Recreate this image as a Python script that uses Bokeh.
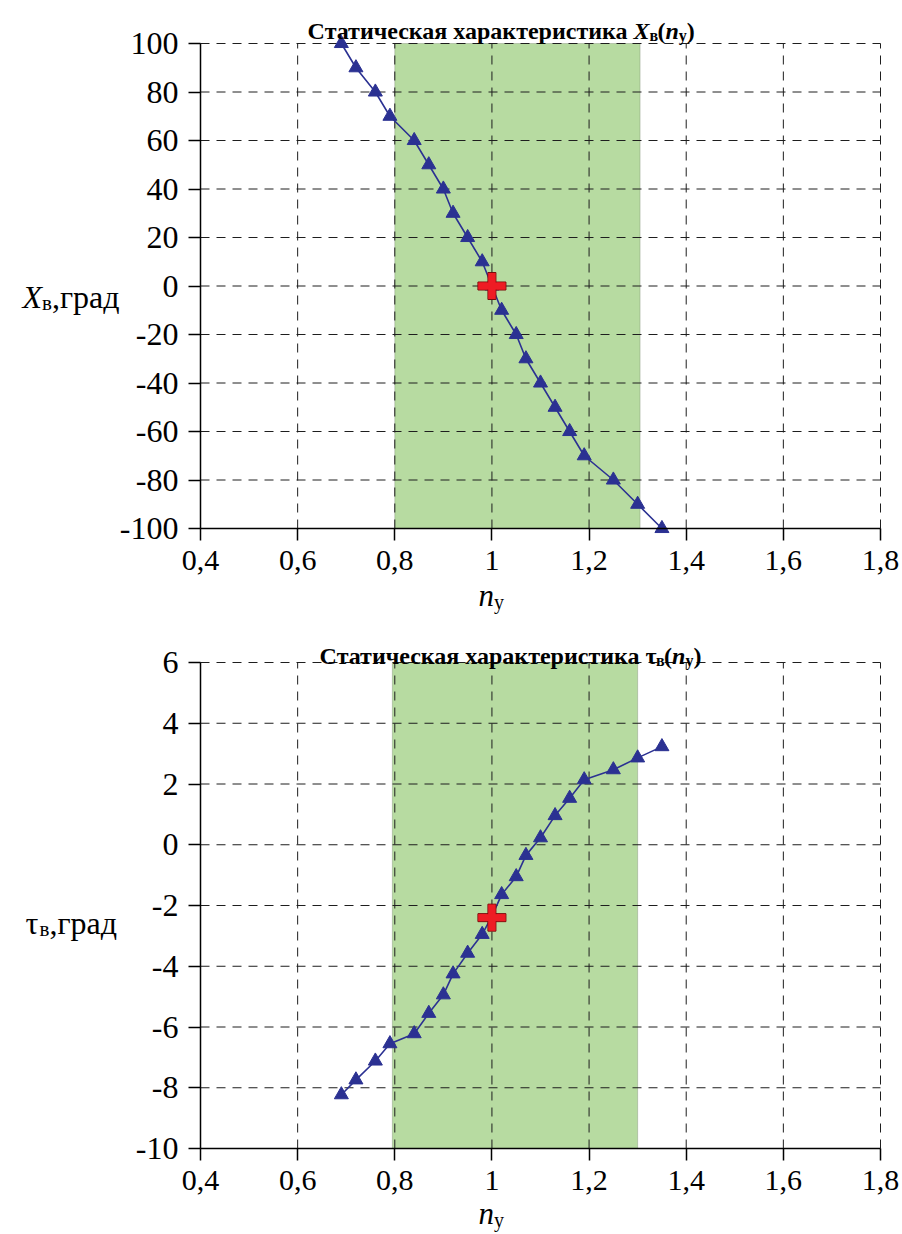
from bokeh.plotting import figure
from bokeh.layouts import column
from bokeh.models import FixedTicker, Label, Range1d, BoxAnnotation, LinearAxis
from bokeh.embed import file_html
from bokeh.resources import INLINE

# ---- data -------------------------------------------------------------
n_y = [0.69, 0.72, 0.76, 0.79, 0.84, 0.87, 0.90, 0.92, 0.95, 0.98, 1.00,
       1.02, 1.05, 1.07, 1.10, 1.13, 1.16, 1.19, 1.25, 1.30, 1.35]
x_v = [100, 90, 80, 70, 60, 50, 40, 30, 20, 10, 0,
       -10, -20, -30, -40, -50, -60, -70, -80, -90, -100]
tau_v = [-8.23, -7.74, -7.12, -6.55, -6.22, -5.55, -4.94, -4.25, -3.57, -2.95, -2.35,
         -1.64, -1.05, -0.35, 0.23, 0.96, 1.53, 2.14, 2.47, 2.86, 3.23]

# operating point
op_n = 1.0
op_x = 0.0
op_tau = -2.4

# working zone of n_y
zone_top = (0.80, 1.305)
zone_bottom = (0.795, 1.30)

x_lim = (0.4, 1.8)
x_ticks = [0.4, 0.6, 0.8, 1.0, 1.2, 1.4, 1.6, 1.8]
x_tick_labels = ["0,4", "0,6", "0,8", "1", "1,2", "1,4", "1,6", "1,8"]
y1_lim = (-100, 100)
y1_ticks = [-100, -80, -60, -40, -20, 0, 20, 40, 60, 80, 100]
y1_tick_labels = ["-100", "-80", "-60", "-40", "-20", "0", "20", "40", "60", "80", "100"]
y2_lim = (-10, 6)
y2_ticks = [-10, -8, -6, -4, -2, 0, 2, 4, 6]
y2_tick_labels = ["-10", "-8", "-6", "-4", "-2", "0", "2", "4", "6"]

# ---- styling ------------------------------------------------------------
SERIF = "Liberation Serif"
AXIS_FONT = "'Liberation Serif', serif"
BLUE = "#2b3192"
RED = "#ee1c24"
GREEN = "#b7dba1"
W, H = 902, 617
AREA_L, AREA_R = 200, 880      # pixel span of the plotting area


class Panel:
    """One chart: the canvas is the whole frame, the plotting area sits inside it."""

    def __init__(self, ylim, area_top, area_bottom):
        self.ylim = ylim
        self.top, self.bottom = area_top, area_bottom
        sx = (x_lim[1] - x_lim[0]) / (AREA_R - AREA_L)
        sy = (ylim[1] - ylim[0]) / (area_bottom - area_top)
        self.sx, self.sy = sx, sy
        xr = Range1d(x_lim[0] - AREA_L * sx, x_lim[1] + (W - AREA_R) * sx)
        yr = Range1d(ylim[0] - (H - area_bottom) * sy, ylim[1] + area_top * sy)
        p = figure(width=W, height=H, x_range=xr, y_range=yr, title=None,
                   x_axis_location=None, y_axis_location=None,
                   min_border=0, output_backend="svg", toolbar_location=None)
        p.outline_line_color = None
        p.background_fill_color = "white"
        p.border_fill_color = "white"
        p.xgrid.visible = False
        p.ygrid.visible = False
        self.p = p

    def to_data(self, px, py):
        return (x_lim[0] + (px - AREA_L) * self.sx,
                self.ylim[1] - (py - self.top) * self.sy)

    def zone(self, lo, hi):
        self.p.add_layout(BoxAnnotation(left=lo, right=hi, bottom=self.ylim[0], top=self.ylim[1],
                                        fill_color=GREEN, fill_alpha=1.0,
                                        line_color="#5f6b58", line_width=1, level="underlay"))

    def grid(self, y_ticks):
        p = self.p
        n = len(x_ticks)
        p.segment(x0=x_ticks, x1=x_ticks, y0=[self.ylim[0]] * n, y1=[self.ylim[1]] * n,
                  line_color="#1e1e1e", line_width=1, line_dash="9 7")
        m = len(y_ticks)
        p.segment(x0=[x_lim[0]] * m, x1=[x_lim[1]] * m, y0=y_ticks, y1=y_ticks,
                  line_color="#1e1e1e", line_width=1, line_dash="9 7")

    def axes(self, y_ticks, y_labels):
        p = self.p
        xa = LinearAxis(fixed_location=self.ylim[0], bounds=x_lim,
                        ticker=FixedTicker(ticks=x_ticks),
                        major_label_overrides={float(t): s for t, s in zip(x_ticks, x_tick_labels)})
        ya = LinearAxis(fixed_location=x_lim[0], bounds=self.ylim,
                        ticker=FixedTicker(ticks=y_ticks),
                        major_label_overrides={float(t): s for t, s in zip(y_ticks, y_labels)})
        for ax, fs in ((xa, "30px"), (ya, "32px")):
            ax.axis_line_color = "black"
            ax.axis_line_width = 1.5
            ax.major_tick_line_color = "black"
            ax.major_tick_line_width = 1.5
            ax.major_tick_out = 12
            ax.major_tick_in = 0
            ax.minor_tick_line_color = None
            ax.major_label_text_font = AXIS_FONT
            ax.major_label_text_font_size = fs
            ax.major_label_text_color = "black"
            ax.major_label_standoff = 10
        p.add_layout(xa, "below")
        p.add_layout(ya, "left")

    def curve(self, xs, ys, ox, oy):
        p = self.p
        p.line(xs, ys, line_color=BLUE, line_width=1.6)
        p.scatter(xs, ys, marker="triangle", size=14, fill_color=BLUE, line_color=BLUE)
        # operating point as a red plus
        for w_, h_ in ((28, 8), (8, 27)):
            p.rect(x=[ox], y=[oy], width=w_, height=h_, width_units="screen", height_units="screen",
                   fill_color=RED, line_color="#7a0a0a", line_width=1)
        for w_, h_ in ((27, 7), (7, 26)):
            p.rect(x=[ox], y=[oy], width=w_, height=h_, width_units="screen", height_units="screen",
                   fill_color=RED, line_color=None)

    def put(self, px, py, text, size, style="normal", align="left"):
        x, y = self.to_data(px, py)
        self.p.add_layout(Label(x=x, y=y, text=text, text_font=SERIF, text_font_size=f"{size}px",
                                text_font_style=style, text_align=align,
                                text_baseline="alphabetic", text_color="black"))

    def chain(self, px, py, parts):
        # parts: (text, size, style, drop, advance_em)
        for text, size, style, drop, adv in parts:
            self.put(px, py + drop, text, size, style)
            px += size * adv


# ---- upper panel: X_в(n_у) -------------------------------------------------
a = Panel(y1_lim, 43, 528)
a.zone(*zone_top)
a.grid(y1_ticks)
a.curve(n_y, x_v, op_n, op_x)
a.axes(y1_ticks, y1_tick_labels)
a.put(633, 30, "Статическая характеристика ", 24, "bold", "right")
a.chain(633, 30, [("X", 24, "bold italic", 0, 0.667),
                  ("в", 16, "bold", 5, 0.5),
                  ("(", 24, "bold", 0, 0.333),
                  ("n", 24, "bold italic", 0, 0.556),
                  ("у", 16, "bold", 5, 0.5),
                  (")", 24, "bold", 0, 0.333)])
a.chain(22, 296, [("X", 32, "italic", 0, 0.611),
                  ("в", 21, "normal", 6, 0.47),
                  (",град", 32, "normal", 0, 1.0)])
a.chain(478, 595, [("n", 31, "italic", 0, 0.5),
                   ("у", 20, "normal", 6, 0.5)])

# ---- lower panel: τ_в(n_у) ------------------------------------------------
b = Panel(y2_lim, 45, 531)
b.zone(*zone_bottom)
b.grid(y2_ticks)
b.curve(n_y, tau_v, op_n, op_tau)
b.axes(y2_ticks, y2_tick_labels)
b.put(645, 38, "Статическая характеристика ", 24, "bold", "right")
b.chain(645, 38, [("τ", 24, "bold", 0, 0.44),
                  ("в", 16, "bold", 5, 0.5),
                  ("(", 24, "bold", 0, 0.333),
                  ("n", 24, "bold italic", 0, 0.556),
                  ("у", 16, "bold", 5, 0.5),
                  (")", 24, "bold", 0, 0.333)])
b.chain(25, 305, [("τ", 32, "normal", 0, 0.44),
                  ("в", 21, "normal", 6, 0.47),
                  (",град", 32, "normal", 0, 1.0)])
b.chain(478, 596, [("n", 31, "italic", 0, 0.5),
                   ("у", 20, "normal", 6, 0.5)])

layout = column(a.p, b.p)
open("out.html", "w").write(file_html(layout, INLINE))
